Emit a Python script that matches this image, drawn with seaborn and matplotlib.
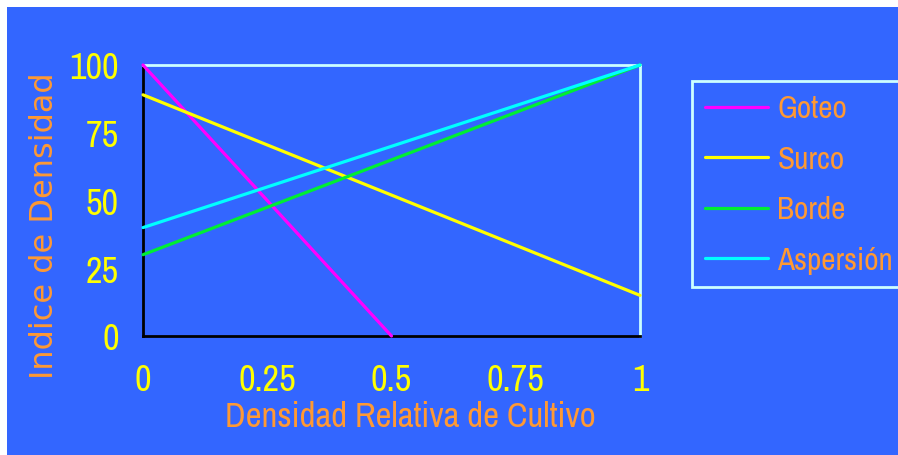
import matplotlib
matplotlib.use("Agg")
import matplotlib.pyplot as plt
from matplotlib.patches import Rectangle
import seaborn as sns
import pandas as pd

# Endpoints of each irrigation method's density index line
densidad_relativa = [0.0, 0.5, 0.0, 1.0, 0.0, 1.0, 0.0, 1.0]
indice = [100, 0, 89, 15, 30, 100, 40, 100]
metodo = ["Goteo", "Goteo", "Surco", "Surco", "Borde", "Borde", "Aspersión", "Aspersión"]
metodos = ["Goteo", "Surco", "Borde", "Aspersión"]
colores = ["#FF00FF", "#FFFF00", "#00EE33", "#00FFFF"]
x_ticks = [0, 0.25, 0.5, 0.75, 1]
x_ticklabels = ["0", "0.25", "0.5", "0.75", "1"]
y_ticks = [0, 25, 50, 75, 100]

azul = "#3366FF"
naranja = "#FF9933"
amarillo = "#FFFF00"
claro = "#CCFFFF"
narrow = ["Liberation Sans Narrow", "Archivo Narrow", "Roboto Condensed",
          "PT Sans Narrow", "Liberation Sans", "DejaVu Sans"]

sns.set_theme(style="white")
plt.rcParams["font.family"] = narrow

df = pd.DataFrame({"Densidad": densidad_relativa, "Indice": indice, "Metodo": metodo})

fig = plt.figure(figsize=(8.98, 4.56), dpi=100, facecolor="white")
fondo = Rectangle((7 / 898, 0), 1, 1 - 8 / 456, transform=fig.transFigure,
                  facecolor=azul, edgecolor="none", zorder=-10)
fig.add_artist(fondo)

ax = fig.add_axes([143 / 898, 1 - 337 / 456, (640 - 143) / 898, (337 - 66) / 456])
ax.set_facecolor(azul)

sns.lineplot(data=df, x="Densidad", y="Indice", hue="Metodo", hue_order=metodos,
             palette=colores, linewidth=2.3, ax=ax, clip_on=False, zorder=5)

ax.set_xlim(0, 1)
ax.set_ylim(0, 100)
ax.set_xticks(x_ticks)
ax.set_xticklabels(x_ticklabels)
ax.set_yticks(y_ticks)

for side in ["left", "bottom"]:
    ax.spines[side].set_color("black")
    ax.spines[side].set_linewidth(2.0)
for side in ["top", "right"]:
    ax.spines[side].set_color(claro)
    ax.spines[side].set_linewidth(2.0)

ax.tick_params(axis="both", direction="out", length=4.5, width=2, color="black",
               labelcolor=amarillo, labelsize=26)
ax.tick_params(axis="y", pad=13)
ax.tick_params(axis="x", pad=15)
ax.grid(False)

ax.set_xlabel("Densidad Relativa de Cultivo", color=naranja, fontsize=25)
ax.xaxis.set_label_coords(0.537, -0.235)
ax.set_ylabel("Indice de Densidad", color=naranja, fontsize=23,
              family=["DejaVu Sans"])
ax.yaxis.set_label_coords(-0.168, 0.41)

leg = ax.legend(loc="upper left", bbox_to_anchor=(692 / 898, 1 - 82 / 456),
                bbox_transform=fig.transFigure, borderaxespad=0, frameon=True,
                fancybox=False, fontsize=22.5, handlelength=2.0, handletextpad=0.3,
                labelspacing=0.72, borderpad=0.43, title=None)
leg.get_frame().set_facecolor(azul)
leg.get_frame().set_edgecolor(claro)
leg.get_frame().set_linewidth(2.0)
leg.get_frame().set_alpha(1)
for t in leg.get_texts():
    t.set_color(naranja)
for h in leg.get_lines():
    h.set_linewidth(2.3)

fig.savefig("out.png", dpi=100, facecolor="white")
